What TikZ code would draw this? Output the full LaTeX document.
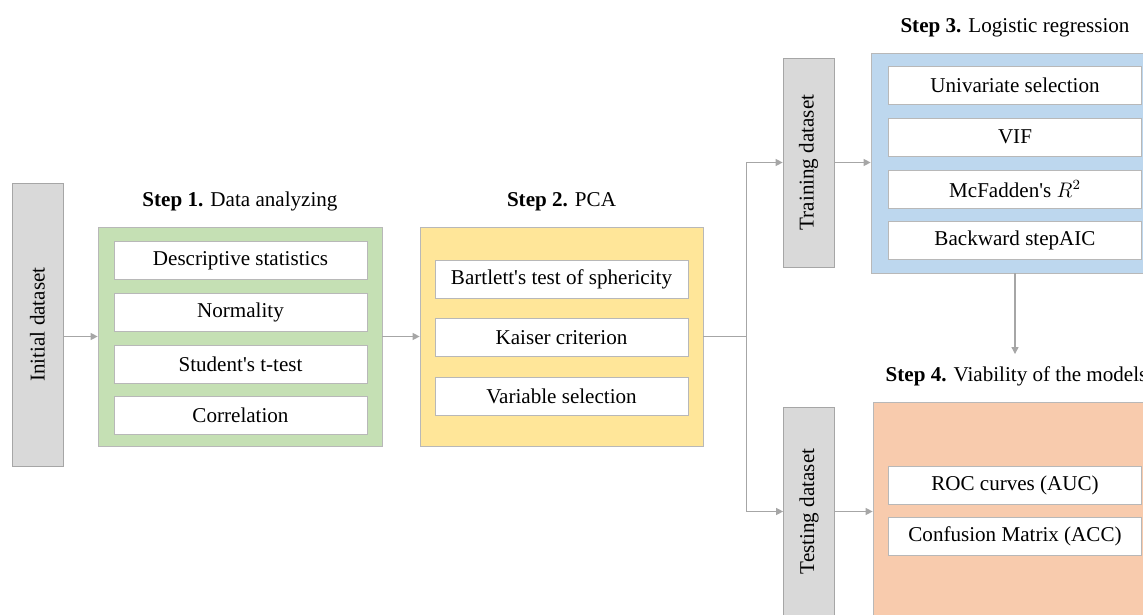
\documentclass[tikz,border=0pt]{standalone}
\usepackage{fontspec}
\setmainfont{Liberation Serif}
\usetikzlibrary{positioning,arrows.meta}
\definecolor{boxgrey}{HTML}{D9D9D9}
\definecolor{linegrey}{HTML}{A6A6A6}
\definecolor{stepgreen}{HTML}{C5E0B4}
\definecolor{stepyellow}{HTML}{FFE699}
\definecolor{stepblue}{HTML}{BDD7EE}
\definecolor{steporange}{HTML}{F8CBAD}
\newcommand{\apos}{\textquotesingle}
\tikzset{
  every node/.style={font=\fontsize{12}{14}\selectfont},
  dataset/.style={draw=linegrey, fill=boxgrey, minimum width=1.02cm, inner sep=0pt},
  stepbox/.style={draw=linegrey!80, minimum width=5.7cm, minimum height=4.4cm},
  item/.style={draw=linegrey!80, fill=white, minimum width=5.06cm, minimum height=0.76cm, inner sep=1pt},
  steptitle/.style={anchor=south, inner sep=0pt},
  flow/.style={draw=linegrey, line width=0.7pt, -{Triangle[length=4pt,width=4pt]}},
}

\begin{document}
\begin{tikzpicture}
  \useasboundingbox (0,0) rectangle (22.86,-12.30);
  \clip (0,0) rectangle (22.86,-12.30);

  % datasets
  \node[dataset, minimum height=5.66cm] (init) at (0.75,-6.49) {\rotatebox{90}{Initial dataset}};
  \node[dataset, minimum height=4.18cm] (train) at (16.17,-3.25) {\rotatebox{90}{Training dataset}};
  \node[dataset, minimum height=4.18cm] (test) at (16.18,-10.23) {\rotatebox{90}{Testing dataset}};

  % step 1
  \node[stepbox, fill=stepgreen, minimum width=5.68cm, minimum height=4.38cm] (s1) at (4.80,-6.73) {};
  \node[steptitle] (t1) at ([yshift=0.30cm]s1.north) {\textbf{Step 1.} Data analyzing};
  \node[item] (a1) at (4.81,-5.21) {Descriptive statistics};
  \node[item, below=0.26cm of a1] (a2) {Normality};
  \node[item, below=0.26cm of a2] (a3) {Student\apos s t-test};
  \node[item, below=0.26cm of a3] (a4) {Correlation};

  % step 2
  \node[stepbox, fill=stepyellow, minimum width=5.66cm, minimum height=4.38cm] (s2) at (11.23,-6.73) {};
  \node[steptitle] (t2) at ([yshift=0.30cm]s2.north) {\textbf{Step 2.} PCA};
  \node[item] (b1) at (11.23,-5.58) {Bartlett\apos s test of sphericity};
  \node[item, below=0.40cm of b1] (b2) {Kaiser criterion};
  \node[item, below=0.40cm of b2] (b3) {Variable selection};

  % step 3
  \node[stepbox, fill=stepblue, minimum width=5.76cm] (s3) at (20.30,-3.26) {};
  \node[steptitle] (t3) at ([yshift=0.30cm]s3.north) {\textbf{Step 3.} Logistic regression};
  \node[item] (c1) at (20.30,-1.71) {Univariate selection};
  \node[item, below=0.26cm of c1] (c2) {VIF};
  \node[item, below=0.26cm of c2] (c3) {McFadden\apos s $R^{2}$};
  \node[item, below=0.26cm of c3] (c4) {Backward stepAIC};

  % step 4
  \node[stepbox, fill=steporange, minimum width=5.74cm] (s4) at (20.33,-10.24) {};
  \node[steptitle] (t4) at ([yshift=0.30cm]s4.north) {\textbf{Step 4.} Viability of the models};
  \node[item] (d1) at (20.30,-9.70) {ROC curves (AUC)};
  \node[item, below=0.26cm of d1] (d2) {Confusion Matrix (ACC)};

  % connectors
  \coordinate (split) at ([xshift=0.86cm]s2.east);
  \draw[flow] (init.east |- s1.west) -- (s1.west);
  \draw[flow] (s1.east) -- (s2.west);
  \draw[draw=linegrey, line width=0.7pt] (s2.east) -- (split);
  \draw[flow] (split) |- (train.west);
  \draw[flow] (split) |- (test.west);
  \draw[flow] (train.east) -- (train.east -| s3.west);
  \draw[flow] (test.east) -- (test.east -| s4.west);
  \draw[flow, shorten >=0.25cm] (s3.south) -- (t4.north -| s3.south);
\end{tikzpicture}
\end{document}
